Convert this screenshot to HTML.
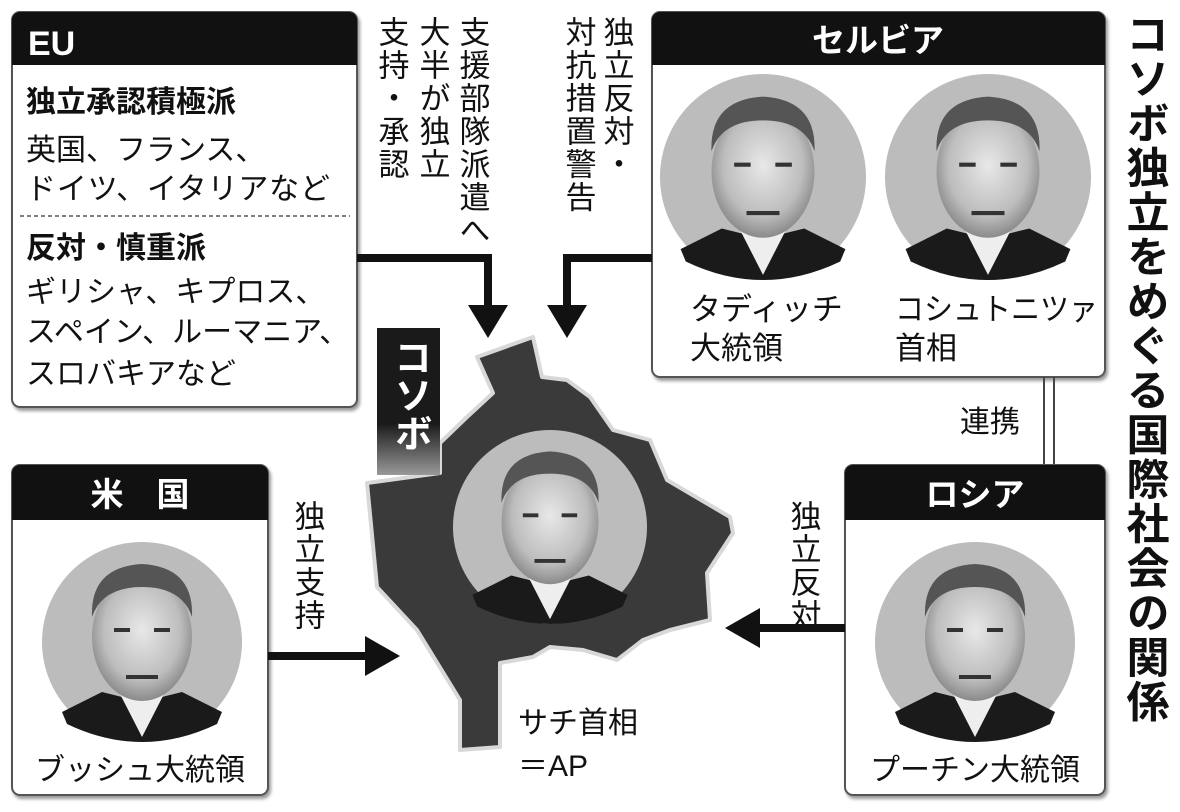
<!DOCTYPE html>
<html><head><meta charset="utf-8"><style>
html,body{margin:0;padding:0;background:#fff}
svg text{font-family:"Liberation Sans","Noto Sans CJK JP",sans-serif;fill:#111}
.v{writing-mode:vertical-rl}
</style></head><body>
<svg width="1180" height="807" viewBox="0 0 1180 807" xmlns="http://www.w3.org/2000/svg">
<defs>
<radialGradient id="face" cx="50%" cy="45%" r="55%"><stop offset="0" stop-color="#e8e8e8"/><stop offset="0.7" stop-color="#bdbdbd"/><stop offset="1" stop-color="#8a8a8a"/></radialGradient>
<linearGradient id="lab" x1="0" y1="0" x2="0" y2="1"><stop offset="0.65" stop-color="#1a1a1a"/><stop offset="1" stop-color="#999"/></linearGradient>
<g id="person">
 <circle cx="0" cy="0" r="100" fill="#bcbcbc"/>
 <path d="M-80,70 L-40,50 L0,60 L40,50 L80,70 L75,82 Q0,118 -75,82 Z" fill="#1a1a1a"/>
 <path d="M-22,52 L0,95 L22,52 Z" fill="#eee"/>
 <ellipse cx="0" cy="-5" rx="50" ry="64" fill="url(#face)"/>
 <path d="M-50,-25 Q-52,-75 0,-78 Q52,-75 50,-25 Q40,-55 0,-55 Q-40,-55 -50,-25Z" fill="#555"/>
 <path d="M-28,-12 h16 M12,-12 h16 M-16,35 h32" stroke="#333" stroke-width="4"/>
</g>
<filter id="sh" x="-5%" y="-5%" width="110%" height="110%"><feDropShadow dx="2" dy="3" stdDeviation="1.5" flood-color="#999"/></filter>
</defs>

<rect x="12" y="12" width="345" height="395" rx="8" fill="#fff" stroke="#555" stroke-width="2" filter="url(#sh)"/>
<path d="M12,20 a8,8 0 0 1 8,-8 h329 a8,8 0 0 1 8,8 v45 h-345z" fill="#111"/>
<text x="28" y="55" font-size="34" font-weight="bold" style="fill:#fff">EU</text>
<text x="26" y="112" font-size="30" font-weight="bold">独立承認積極派</text>
<text x="26" y="160" font-size="30">英国、フランス、</text>
<text x="26" y="199" font-size="30" textLength="304">ドイツ、イタリアなど</text>
<line x1="20" y1="216" x2="350" y2="216" stroke="#555" stroke-width="1.5" stroke-dasharray="4,3"/>
<text x="26" y="258" font-size="30" font-weight="bold">反対・慎重派</text>
<text x="26" y="302" font-size="30">ギリシャ、キプロス、</text>
<text x="26" y="342" font-size="30">スペイン、ルーマニア、</text>
<text x="26" y="384" font-size="30">スロバキアなど</text>

<text class="v" x="472" y="16" font-size="31" letter-spacing="2">支援部隊派遣へ</text>
<text class="v" x="432" y="16" font-size="31" letter-spacing="2">大半が独立</text>
<text class="v" x="391" y="16" font-size="31" letter-spacing="2">支持・承認</text>
<text class="v" x="616" y="16" font-size="31" letter-spacing="2">独立反対・</text>
<text class="v" x="578" y="16" font-size="31" letter-spacing="2">対抗措置警告</text>

<text class="v" x="1144" y="12" font-size="43" font-weight="bold" letter-spacing="1.5">コソボ独立をめぐる国際社会の関係</text>

<rect x="652" y="12" width="453" height="365" rx="8" fill="#fff" stroke="#555" stroke-width="2" filter="url(#sh)"/>
<path d="M652,20 a8,8 0 0 1 8,-8 h437 a8,8 0 0 1 8,8 v45 h-453z" fill="#111"/>
<text x="878" y="52" font-size="33" font-weight="bold" text-anchor="middle" style="fill:#fff">セルビア</text>
<use href="#person" transform="translate(763,177) scale(1.03)"/>
<use href="#person" transform="translate(988,177) scale(1.03)"/>
<text x="690" y="320" font-size="31">タディッチ</text>
<text x="690" y="359" font-size="31">大統領</text>
<text x="895" y="320" font-size="31" textLength="203" lengthAdjust="spacingAndGlyphs">コシュトニツァ</text>
<text x="895" y="359" font-size="31">首相</text>

<line x1="1044" y1="377" x2="1044" y2="465" stroke="#444" stroke-width="2"/>
<line x1="1054" y1="377" x2="1054" y2="465" stroke="#444" stroke-width="2"/>
<text x="960" y="432" font-size="30">連携</text>

<rect x="12" y="465" width="256" height="330" rx="8" fill="#fff" stroke="#555" stroke-width="2" filter="url(#sh)"/>
<path d="M12,473 a8,8 0 0 1 8,-8 h240 a8,8 0 0 1 8,8 v47 h-256z" fill="#111"/>
<text x="140" y="506" font-size="33" font-weight="bold" text-anchor="middle" style="fill:#fff">米　国</text>
<use href="#person" transform="translate(142,642)"/>
<text x="140" y="780" font-size="30" text-anchor="middle">ブッシュ大統領</text>

<rect x="845" y="465" width="260" height="330" rx="8" fill="#fff" stroke="#555" stroke-width="2" filter="url(#sh)"/>
<path d="M845,473 a8,8 0 0 1 8,-8 h244 a8,8 0 0 1 8,8 v47 h-260z" fill="#111"/>
<text x="975" y="506" font-size="33" font-weight="bold" text-anchor="middle" style="fill:#fff">ロシア</text>
<use href="#person" transform="translate(975,642)"/>
<text x="975" y="780" font-size="30" text-anchor="middle">プーチン大統領</text>

<polygon points="477,357 533,337 542,377 567,380 590,397 613,430 650,440 667,480 730,517 733,533 707,573 710,620 670,630 643,640 617,660 583,650 550,647 533,657 500,663 500,747 460,750 460,700 417,630 377,587 367,483 440,473 440,443 467,417 493,393" fill="#3a3a3a" stroke="#d8d8d8" stroke-width="4" stroke-linejoin="round"/>
<rect x="377" y="328" width="63" height="147" fill="url(#lab)"/>
<text class="v" x="409" y="338" font-size="38" font-weight="bold" style="fill:#fff">コソボ</text>
<use href="#person" transform="translate(550,527) scale(0.97)"/>
<text x="518" y="733" font-size="30">サチ首相</text>
<text x="518" y="776" font-size="30">＝AP</text>

<polyline points="357,258 488,258 488,312" fill="none" stroke="#111" stroke-width="8"/>
<polygon points="468,305 508,305 488,338" fill="#111"/>
<polyline points="652,258 567,258 567,312" fill="none" stroke="#111" stroke-width="8"/>
<polygon points="547,305 587,305 567,338" fill="#111"/>
<line x1="268" y1="656" x2="375" y2="656" stroke="#111" stroke-width="8"/>
<polygon points="365,636 365,676 400,656" fill="#111"/>
<line x1="845" y1="628" x2="750" y2="628" stroke="#111" stroke-width="8"/>
<polygon points="760,608 760,648 725,628" fill="#111"/>
<text class="v" x="307" y="500" font-size="31" letter-spacing="2">独立支持</text>
<text class="v" x="803" y="500" font-size="31" letter-spacing="2">独立反対</text>
</svg>
</body></html>
